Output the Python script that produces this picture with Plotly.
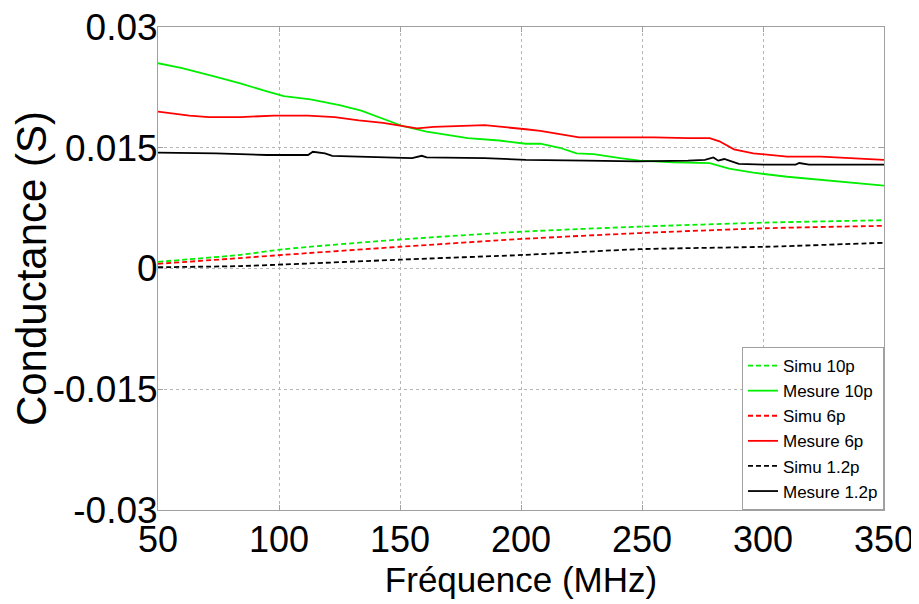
import plotly.graph_objects as go

# Simulated conductance (smooth curves)
simu_freq = [50, 84, 102, 150, 202, 249, 301, 350]
simu_10p = [0.00083, 0.0017, 0.0024, 0.0036, 0.0046, 0.0052, 0.0057, 0.0060]
simu_6p = [0.00058, 0.0013, 0.0017, 0.0027, 0.0037, 0.0044, 0.0050, 0.0053]
simu_1p2 = [0.00016, 0.0003, 0.0005, 0.0011, 0.0017, 0.0024, 0.0027, 0.0032]

# Measured conductance
mes10_freq = [50, 60, 74, 84, 95, 102, 113, 125, 134, 143, 151, 161, 178, 191, 202,
              208, 216, 223, 230, 241, 249, 263, 278, 286, 296, 310, 324, 337, 350]
mes10_val = [0.0255, 0.0249, 0.0238, 0.0230, 0.0220, 0.0214, 0.0210, 0.0203, 0.0196,
             0.0186, 0.0177, 0.0170, 0.0162, 0.0159, 0.0155, 0.0155, 0.0150, 0.0143,
             0.0142, 0.0137, 0.0134, 0.0132, 0.0131, 0.0124, 0.0119, 0.0114, 0.0110,
             0.0106, 0.0103]

mes6_freq = [50, 63, 71, 84, 98, 112, 123, 133, 143, 157, 164, 185, 202, 208, 224,
             241, 255, 269, 278, 282, 288, 296, 310, 324, 337, 350]
mes6_val = [0.0195, 0.0190, 0.0188, 0.0188, 0.0190, 0.0190, 0.0188, 0.0184, 0.0181,
            0.0174, 0.0176, 0.0178, 0.0173, 0.0171, 0.0163, 0.0163, 0.0163, 0.0162,
            0.0162, 0.0158, 0.0148, 0.0143, 0.0139, 0.0139, 0.0137, 0.0135]

mes1p2_freq = [50, 74, 95, 112, 114, 119, 122, 137, 155, 159, 161, 185, 202, 227,
               248, 269, 276, 279.5, 281.5, 284, 290, 301, 313.5, 315, 319, 350]
mes1p2_val = [0.0144, 0.0143, 0.0141, 0.0141, 0.0145, 0.0143, 0.0140, 0.0139, 0.0137,
              0.0140, 0.0138, 0.0137, 0.0135, 0.0134, 0.0133, 0.0134, 0.0135, 0.0138,
              0.0134, 0.0136, 0.0130, 0.0129, 0.0129, 0.0131, 0.0129, 0.0129]

x_ticks = [50, 100, 150, 200, 250, 300, 350]
y_ticks = [-0.03, -0.015, 0, 0.015, 0.03]
y_tick_labels = ["-0.03", "-0.015", "0", "0.015", "0.03"]

FONT = "Liberation Sans, Arial"

fig = go.Figure()
series = [
    ("Simu 10p", simu_freq, simu_10p, "#00ee00", "5px,3px"),
    ("Mesure 10p", mes10_freq, mes10_val, "#00ee00", "solid"),
    ("Simu 6p", simu_freq, simu_6p, "#ff0000", "5px,3px"),
    ("Mesure 6p", mes6_freq, mes6_val, "#ff0000", "solid"),
    ("Simu 1.2p", simu_freq, simu_1p2, "#000000", "5px,3px"),
    ("Mesure 1.2p", mes1p2_freq, mes1p2_val, "#000000", "solid"),
]
for name, xs, ys, color, dash in series:
    fig.add_trace(go.Scatter(
        x=xs, y=ys, mode="lines", name=name,
        line=dict(color=color, width=1.8, dash=dash,
                  shape="spline" if dash != "solid" else "linear", smoothing=0.6),
    ))

axis_common = dict(
    showline=True, linecolor="#a0a0a0", linewidth=1, mirror="ticks",
    ticks="inside", ticklen=5, tickcolor="#a0a0a0",
    showgrid=True, gridcolor="#b5b5b5", griddash="dot", gridwidth=1,
    zeroline=False, automargin=False, ticklabeloverflow="allow",
)

# page body has an 8px margin, so the figure is 8px smaller than the window
fig.update_layout(
    width=911, height=596,
    margin=dict(l=150, r=35, t=19, b=94),
    paper_bgcolor="white", plot_bgcolor="white",
    xaxis=dict(
        range=[50, 350], tickvals=x_ticks,
        tickfont=dict(family=FONT, size=36, color="black"),
        ticklabelstandoff=-2,
        title=dict(text="Fréquence (MHz)", standoff=7,
                   font=dict(family=FONT, size=35, color="black")),
        **axis_common,
    ),
    yaxis=dict(
        range=[-0.03, 0.03], tickvals=y_ticks, ticktext=y_tick_labels,
        tickfont=dict(family=FONT, size=37, color="black"),
        ticklabelstandoff=-8,
        title=dict(text="Conductance (S)", standoff=4,
                   font=dict(family=FONT, size=42, color="black")),
        **axis_common,
    ),
    legend=dict(
        x=1, y=0, xanchor="right", yanchor="bottom",
        bgcolor="white", bordercolor="#a0a0a0", borderwidth=1,
        font=dict(family=FONT, size=17, color="black"),
        itemwidth=30, tracegroupgap=0,
    ),
    showlegend=True,
)

fig.write_html("out.html")
